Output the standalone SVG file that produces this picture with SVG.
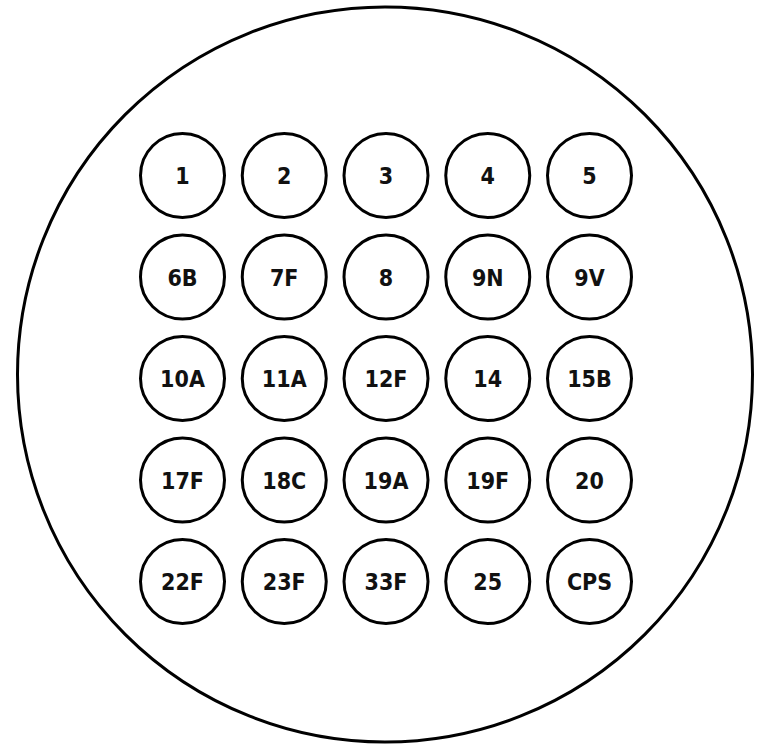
<svg xmlns="http://www.w3.org/2000/svg" width="759" height="746" viewBox="0 0 759 746">
<style>
.outer{fill:#fff;stroke:#000;stroke-width:3}
.well{fill:#fff;stroke:#000;stroke-width:3}
.lbl{font-family:"DejaVu Sans Condensed","DejaVu Sans","Liberation Sans",sans-serif;font-stretch:condensed;font-weight:bold;font-size:23px;fill:#111;text-anchor:middle}
</style>
<rect width="759" height="746" fill="#fff"/>
<g id="plate"><circle class="outer" cx="385" cy="374.5" r="367.5"/></g>
<g id="connectors"></g>
<g id="w1"><circle class="well" cx="182.5" cy="175.5" r="42"/><text class="lbl" x="182.5" y="184">1</text></g>
<g id="w2"><circle class="well" cx="284.25" cy="175.5" r="42"/><text class="lbl" x="284.25" y="184">2</text></g>
<g id="w3"><circle class="well" cx="386" cy="175.5" r="42"/><text class="lbl" x="386" y="184">3</text></g>
<g id="w4"><circle class="well" cx="487.75" cy="175.5" r="42"/><text class="lbl" x="487.75" y="184">4</text></g>
<g id="w5"><circle class="well" cx="589.5" cy="175.5" r="42"/><text class="lbl" x="589.5" y="184">5</text></g>
<g id="w6B"><circle class="well" cx="182.5" cy="277" r="42"/><text class="lbl" x="182.5" y="285.5">6B</text></g>
<g id="w7F"><circle class="well" cx="284.25" cy="277" r="42"/><text class="lbl" x="284.25" y="285.5">7F</text></g>
<g id="w8"><circle class="well" cx="386" cy="277" r="42"/><text class="lbl" x="386" y="285.5">8</text></g>
<g id="w9N"><circle class="well" cx="487.75" cy="277" r="42"/><text class="lbl" x="487.75" y="285.5">9N</text></g>
<g id="w9V"><circle class="well" cx="589.5" cy="277" r="42"/><text class="lbl" x="589.5" y="285.5">9V</text></g>
<g id="w10A"><circle class="well" cx="182.5" cy="378.5" r="42"/><text class="lbl" x="182.5" y="387">10A</text></g>
<g id="w11A"><circle class="well" cx="284.25" cy="378.5" r="42"/><text class="lbl" x="284.25" y="387">11A</text></g>
<g id="w12F"><circle class="well" cx="386" cy="378.5" r="42"/><text class="lbl" x="386" y="387">12F</text></g>
<g id="w14"><circle class="well" cx="487.75" cy="378.5" r="42"/><text class="lbl" x="487.75" y="387">14</text></g>
<g id="w15B"><circle class="well" cx="589.5" cy="378.5" r="42"/><text class="lbl" x="589.5" y="387">15B</text></g>
<g id="w17F"><circle class="well" cx="182.5" cy="480" r="42"/><text class="lbl" x="182.5" y="488.5">17F</text></g>
<g id="w18C"><circle class="well" cx="284.25" cy="480" r="42"/><text class="lbl" x="284.25" y="488.5">18C</text></g>
<g id="w19A"><circle class="well" cx="386" cy="480" r="42"/><text class="lbl" x="386" y="488.5">19A</text></g>
<g id="w19F"><circle class="well" cx="487.75" cy="480" r="42"/><text class="lbl" x="487.75" y="488.5">19F</text></g>
<g id="w20"><circle class="well" cx="589.5" cy="480" r="42"/><text class="lbl" x="589.5" y="488.5">20</text></g>
<g id="w22F"><circle class="well" cx="182.5" cy="581.5" r="42"/><text class="lbl" x="182.5" y="590">22F</text></g>
<g id="w23F"><circle class="well" cx="284.25" cy="581.5" r="42"/><text class="lbl" x="284.25" y="590">23F</text></g>
<g id="w33F"><circle class="well" cx="386" cy="581.5" r="42"/><text class="lbl" x="386" y="590">33F</text></g>
<g id="w25"><circle class="well" cx="487.75" cy="581.5" r="42"/><text class="lbl" x="487.75" y="590">25</text></g>
<g id="wCPS"><circle class="well" cx="589.5" cy="581.5" r="42"/><text class="lbl" x="589.5" y="590">CPS</text></g>
</svg>
